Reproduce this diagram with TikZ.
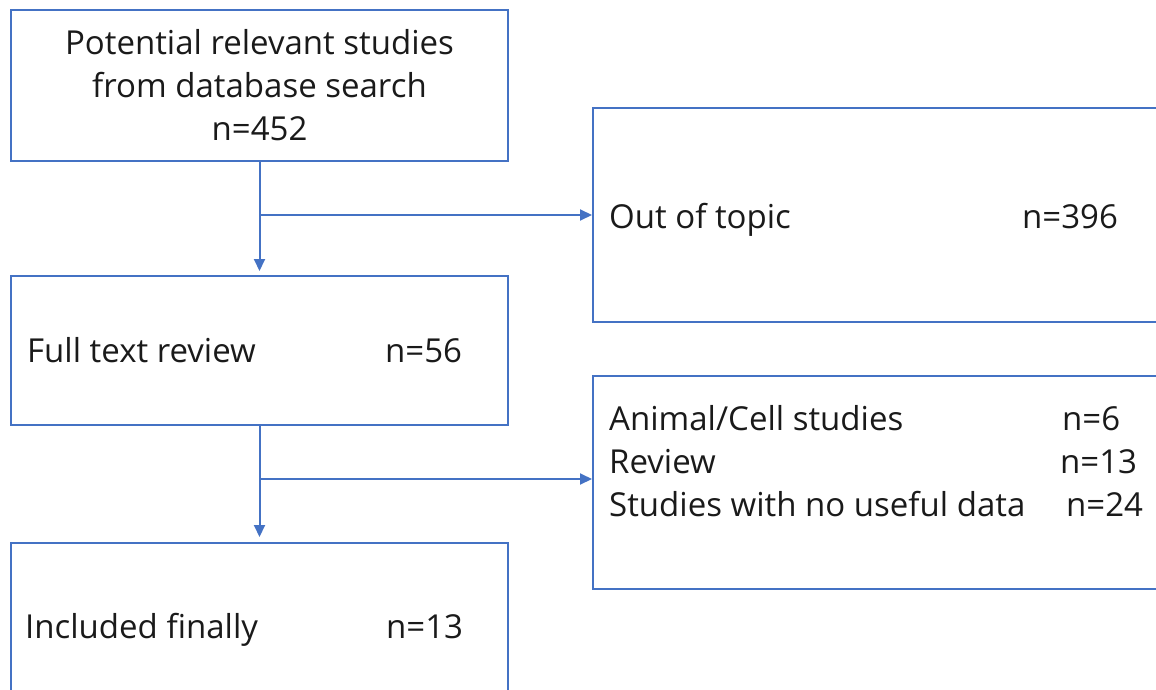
\documentclass[tikz,border=0pt]{standalone}
\usepackage{fontspec}
\setmainfont{Open Sans}
\usetikzlibrary{arrows.meta}

\definecolor{boxblue}{RGB}{68,114,196}
\definecolor{inkgray}{RGB}{26,26,26}

\tikzset{
  box/.style={draw=boxblue, line width=2pt, inner sep=0pt, align=center},
  flow/.style={draw=boxblue, line width=2pt, -{Triangle[length=12pt,width=11pt]}},
  label/.style={anchor=base west, text=inkgray, inner sep=0pt},
}

\begin{document}
\begin{tikzpicture}[x=1pt,y=-1pt]
  \useasboundingbox (0,0) rectangle (1156,690);
  \clip (0,0) rectangle (1156,690);

  \begin{scope}[font=\fontsize{33}{43}\selectfont]
    % left column
    \node[box, minimum width=497pt, minimum height=151pt, text=inkgray] (search) at (259.5,85.5)
      {Potential relevant studies\\from database search\\n=452};
    \node[box, minimum width=497pt, minimum height=149pt] (review) at (259.5,350.5) {};
    \node[box, minimum width=497pt, minimum height=150pt] (final) at (259.5,618) {};

    % right column
    \node[box, minimum width=572pt, minimum height=214pt] (topic) at (879,215) {};
    \node[box, minimum width=572pt, minimum height=213pt] (excl) at (879,482.5) {};

    \node[label] (reviewtxt) at (27,362) {Full text review};
    \node[label] (reviewn) at (385,362) {n=56};
    \node[label] (finaltxt) at (25,638) {Included finally};
    \node[label] (finaln) at (386,638) {n=13};
    \node[label] (topictxt) at (609,228) {Out of topic};
    \node[label] (topicn) at (1022,228) {n=396};
    \node[label] (animal) at (609,430) {Animal/Cell studies};
    \node[label] (animaln) at (1062,430) {n=6};
    \node[label] (rev) at (609,473) {Review};
    \node[label] (revn) at (1060,473) {n=13};
    \node[label] (nodata) at (609,516) {Studies with no useful data};
    \node[label] (nodatan) at (1066,516) {n=24};
  \end{scope}

  \coordinate (split1) at (search.south |- topic.west);
  \coordinate (split2) at (review.south |- 0,479);

  \draw[flow, shorten >=4pt] (search) -- (review);
  \draw[flow] (split1) -- (topic.west);
  \draw[flow, shorten >=5pt] (review) -- (final);
  \draw[flow] (split2) -- (split2 -| excl.west);
\end{tikzpicture}
\end{document}
